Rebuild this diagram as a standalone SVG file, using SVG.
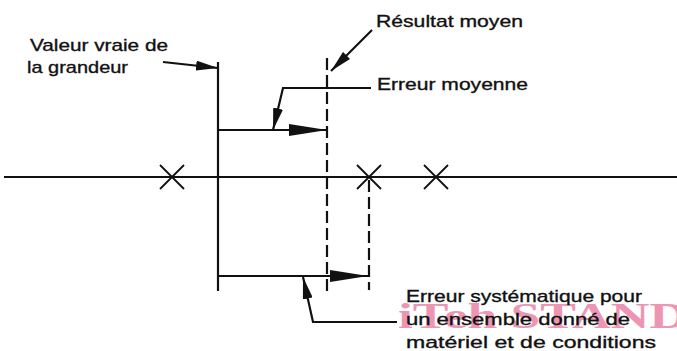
<svg xmlns="http://www.w3.org/2000/svg" width="677" height="351" viewBox="0 0 677 351">
<style>
.t{font-family:"Liberation Sans",Arial,sans-serif;font-size:17px;fill:#111;stroke:#111;stroke-width:0.35}
.l{stroke:#111;stroke-width:2.2;fill:none}
.d{stroke:#111;stroke-width:2.2;fill:none;stroke-dasharray:12 5}
.x{stroke:#111;stroke-width:1.8}
.wm{font-family:"Liberation Serif","Times New Roman",serif;font-size:36px;font-weight:bold;fill:#e8739a;opacity:0.75}
</style>
<defs>
<marker id="big" markerWidth="38" markerHeight="14" refX="38" refY="7" orient="auto" markerUnits="userSpaceOnUse"><path d="M0,1 L38,7 L0,13 Z" fill="#111"/></marker>
<marker id="sm" markerWidth="22" markerHeight="10" refX="22" refY="5" orient="auto" markerUnits="userSpaceOnUse"><path d="M0,0 L22,5 L0,10 Z" fill="#111"/></marker>
</defs>
<rect width="677" height="351" fill="#fff"/>
<text class="wm" x="398" y="328" textLength="290" lengthAdjust="spacingAndGlyphs">iTeh STAND</text>
<g id="axis">
<line class="l" x1="4" y1="177" x2="677" y2="177"/>
</g>
<g id="points">
<path class="x" d="M160,165 L184,189 M184,165 L160,189"/>
<path class="x" d="M357,165 L381,189 M381,165 L357,189"/>
<path class="x" d="M424,165 L448,189 M448,165 L424,189"/>
</g>
<g id="true-value">
<line class="l" x1="218" y1="62" x2="218" y2="291"/>
<text class="t" x="30" y="51" textLength="138" lengthAdjust="spacingAndGlyphs">Valeur vraie de</text>
<text class="t" x="27" y="73" textLength="101" lengthAdjust="spacingAndGlyphs">la grandeur</text>
</g>
<g id="mean-result">
<line class="d" x1="327" y1="58" x2="327" y2="293"/>
<text class="t" x="376" y="27" textLength="147" lengthAdjust="spacingAndGlyphs">Résultat moyen</text>
</g>
<g id="systematic-line">
<line class="d" x1="369" y1="180" x2="369" y2="290"/>
</g>
<g id="mean-error">
<text class="t" x="377" y="90" textLength="151" lengthAdjust="spacingAndGlyphs">Erreur moyenne</text>
</g>
<g id="systematic-error">
<text class="t" x="406" y="302" textLength="236" lengthAdjust="spacingAndGlyphs">Erreur systématique pour</text>
<text class="t" x="406" y="325" textLength="224" lengthAdjust="spacingAndGlyphs">un ensemble donné de</text>
<text class="t" x="406" y="348" textLength="250" lengthAdjust="spacingAndGlyphs">matériel et de conditions</text>
</g>
<g id="connectors">
<line class="l" x1="218" y1="130" x2="327" y2="130" marker-end="url(#big)"/>
<line class="l" x1="218" y1="276" x2="368" y2="276" marker-end="url(#big)"/>
<line class="l" x1="163" y1="62" x2="218" y2="68" marker-end="url(#sm)"/>
<line class="l" x1="372" y1="30" x2="331" y2="71" marker-end="url(#sm)"/>
<polyline class="l" points="371,88 283,88 273,130" marker-end="url(#sm)"/>
<polyline class="l" points="397,322 313,322 303,277" marker-end="url(#sm)"/>
</g>
</svg>
